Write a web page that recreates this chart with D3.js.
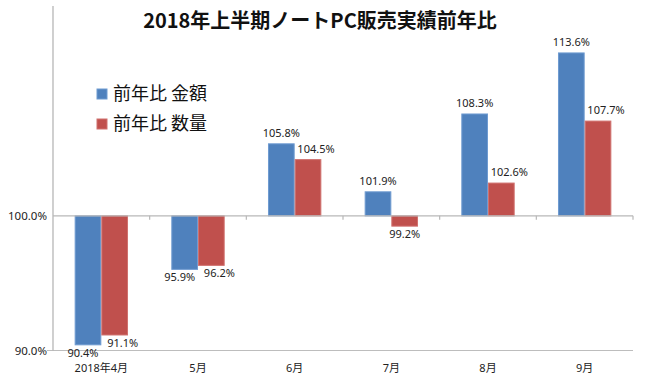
<!DOCTYPE html>
<html><head><meta charset="utf-8">
<script src="https://cdn.jsdelivr.net/npm/d3@7"></script>
<style>
body{margin:0;background:#fff;}
svg{display:block;}
text{font-family:"Noto Sans","Noto Sans CJK JP",sans-serif;}
</style></head>
<body>
<svg id="c" width="650" height="385"></svg>
<script>
const title = "2018年上半期ノートPC販売実績前年比";
const months = ["2018年4月","5月","6月","7月","8月","9月"];
const seriesNames = ["前年比 金額","前年比 数量"];
const amountValues = [90.4, 95.9, 105.8, 101.9, 108.3, 113.6];
const quantityValues = [91.1, 96.2, 104.5, 99.2, 102.6, 107.7];
const yTicks = [90, 100];
const colors = ["#4f81bd","#c0504d"];
const strokes = ["#6f9bd1","#d0716e"];

(function(){
const svg = d3.select("#c");
const pL = 53, pR = 633, pT = 6, pB = 350.5;

const y = d3.scaleLog().domain([90, 117.85]).range([pB, pT]);
const x0 = d3.scaleBand().domain(months).range([pL, pR]).paddingInner(0.448).paddingOuter(0.224);
const x1 = d3.scaleBand().domain(seriesNames).range([0, x0.bandwidth()]);

const data = months.map((m,i)=>({month:m, vals:[
  {s:seriesNames[0], v:amountValues[i], k:0},
  {s:seriesNames[1], v:quantityValues[i], k:1}
]}));

// bottom line at 90%
svg.append("line").attr("x1",pL-6).attr("x2",pR).attr("y1",y(90)).attr("y2",y(90))
  .attr("stroke","#bdbdbd").attr("stroke-width",1.2);

// left axis
const yAxis = d3.axisLeft(y).tickValues(yTicks).tickFormat(d=>d.toFixed(1)+"%").tickSize(0).tickPadding(6);
const ga = svg.append("g").attr("transform",`translate(${pL},0)`).call(yAxis);
ga.select(".domain").attr("stroke","#b0b0b0").attr("stroke-width",1.2).attr("d",`M0,${pT}V${pB}`);
ga.selectAll("text").attr("font-size","11.5px").attr("fill","#222");

// bars
const g = svg.append("g").selectAll("g").data(data).join("g")
  .attr("transform",d=>`translate(${x0(d.month)},0)`);
g.selectAll("rect").data(d=>d.vals).join("rect")
  .attr("x",d=>x1(d.s)+0.5)
  .attr("width",x1.bandwidth()-1)
  .attr("y",d=>Math.min(y(d.v),y(100)))
  .attr("height",d=>Math.abs(y(d.v)-y(100)))
  .attr("fill",d=>colors[d.k])
  .attr("stroke",d=>strokes[d.k]).attr("stroke-width",1);

// labels
g.selectAll("text.lbl").data(d=>d.vals).join("text").attr("class","lbl")
  .attr("x",d=>x1(d.s)+x1.bandwidth()/2 + (d.k===1 ? (d.v>=100 || d.v<99 ? 8 : 0) : (d.v<99 ? -5 : 0)))
  .attr("y",d=>d.v>=100 ? y(d.v)-7 : y(d.v)+12)
  .attr("text-anchor","middle").attr("font-size","11px").attr("fill","#222")
  .text(d=>d.v.toFixed(1)+"%");

// category axis line at 100%
svg.append("line").attr("x1",pL).attr("x2",pR).attr("y1",y(100)).attr("y2",y(100))
  .attr("stroke","#b8b8b8").attr("stroke-width",1.2);
const step = x0.step();
svg.append("g").selectAll("line").data(months).join("line")
  .attr("x1",(d,i)=>pL+step*(i+1)).attr("x2",(d,i)=>pL+step*(i+1))
  .attr("y1",y(100)).attr("y2",y(100)+4)
  .attr("stroke","#b8b8b8").attr("stroke-width",1.2);

// category labels
const xAxis = d3.axisBottom(x0).tickSize(0).tickPadding(0);
const gx = svg.append("g").attr("transform",`translate(0,364)`).call(xAxis);
gx.select(".domain").remove();
gx.selectAll("text").attr("font-size","11px").attr("fill","#222");

// title
svg.append("text").attr("x",320).attr("y",28).attr("text-anchor","middle")
  .attr("font-size","20px").attr("font-weight","bold").attr("fill","#111")
  .style("font-family","'Noto Sans CJK JP',sans-serif").text(title);

// legend
const lg = svg.append("g").selectAll("g").data(seriesNames).join("g")
  .attr("transform",(d,i)=>`translate(97,${94+i*30})`);
lg.append("rect").attr("x",0).attr("y",-5).attr("width",10).attr("height",10)
  .attr("fill",(d,i)=>colors[i]).attr("stroke",(d,i)=>strokes[i]);
lg.append("text").attr("x",16).attr("y",0).attr("dy","0.36em")
  .attr("font-size","18px").attr("fill","#111")
  .style("font-family","'Noto Sans CJK JP',sans-serif").text(d=>d);
})();
</script>
</body></html>
